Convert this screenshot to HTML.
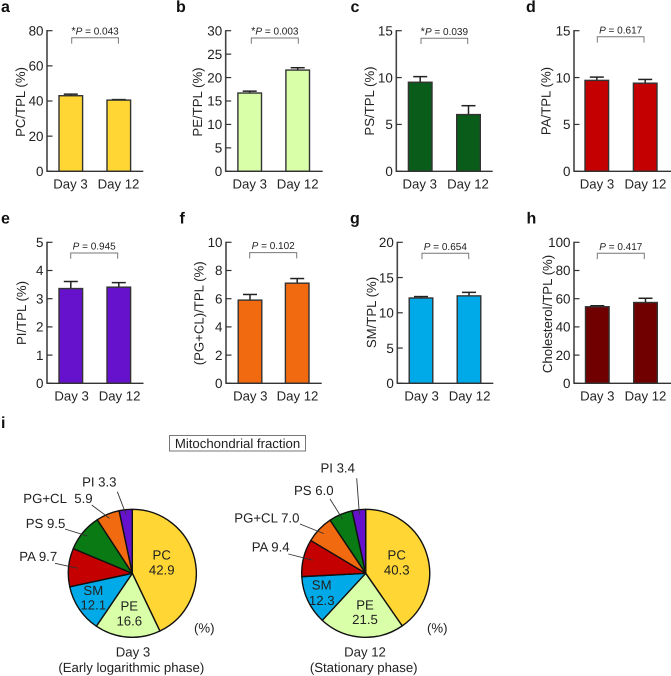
<!DOCTYPE html>
<html>
<head>
<meta charset="utf-8">
<title>Lipid composition chart</title>
<style>
html,body{margin:0;padding:0;background:#fff;}
#chart{display:block;width:671px;height:676px;font-family:"Liberation Sans",Arial,sans-serif;fill:#222;text-rendering:geometricPrecision;}
</style>
</head>
<body>
<svg id="chart" xmlns="http://www.w3.org/2000/svg" width="671" height="676" viewBox="0 0 671 676">
<rect x="169.5" y="435.5" width="136" height="15.5" fill="#fff" stroke="#777" stroke-width="1"/>
<text x="237.5" y="448" font-size="13.2" text-anchor="middle">Mitochondrial fraction</text>
</svg>
<script>
const categories = ['Day 3', 'Day 12'];
const panelLetters = ['a', 'b', 'c', 'd', 'e', 'f', 'g', 'h'];
const yTitles = ['PC/TPL (%)', 'PE/TPL (%)', 'PS/TPL (%)', 'PA/TPL (%)', 'PI/TPL (%)', '(PG+CL)/TPL (%)', 'SM/TPL (%)', 'Cholesterol/TPL (%)'];
const day3Values = [43.0, 16.7, 9.5, 9.7, 3.36, 5.9, 12.1, 54.3];
const day12Values = [40.5, 21.6, 6.05, 9.4, 3.41, 7.1, 12.4, 57.3];
const day3Errors = [0.9, 0.4, 0.6, 0.35, 0.25, 0.4, 0.2, 0.7];
const day12Errors = [0.3, 0.5, 0.95, 0.4, 0.16, 0.33, 0.5, 3.0];
const pLabels = ['*P = 0.043', '*P = 0.003', '*P = 0.039', 'P = 0.617', 'P = 0.945', 'P = 0.102', 'P = 0.654', 'P = 0.417'];
const yTickLabels = [
  [0, 20, 40, 60, 80],
  [0, 5, 10, 15, 20, 25, 30],
  [0, 5, 10, 15],
  [0, 5, 10, 15],
  [0, 1, 2, 3, 4, 5],
  [0, 2, 4, 6, 8, 10],
  [0, 5, 10, 15, 20],
  [0, 20, 40, 60, 80, 100]
];
const barColors = ['#ffd633', '#d9ffa8', '#0a5c1a', '#c40000', '#6612cc', '#f26a0f', '#00aae8', '#700000'];

const day3PieNames = ['PC', 'PE', 'SM', 'PA', 'PS', 'PG+CL', 'PI'];
const day3PieValues = [42.9, 16.6, 12.1, 9.7, 9.5, 5.9, 3.3];
const day12PieNames = ['PC', 'PE', 'SM', 'PA', 'PG+CL', 'PS', 'PI'];
const day12PieValues = [40.3, 21.5, 12.3, 9.4, 7.0, 6.0, 3.4];
const pieColors = {'PC': '#ffd633', 'PE': '#d9ffa8', 'SM': '#00aae8', 'PA': '#c40000', 'PS': '#0a7a14', 'PG+CL': '#f26a0f', 'PI': '#6612cc'};

const svg = document.getElementById('chart');
const NS = 'http://www.w3.org/2000/svg';

function make(tag, attrs, text) {
  const el = document.createElementNS(NS, tag);
  for (const k in attrs) el.setAttribute(k, attrs[k]);
  if (text !== undefined) el.textContent = text;
  svg.appendChild(el);
  return el;
}

function label(name, x, y, size, anchor, str) {
  const el = make('text', {x: x, y: y, 'font-size': size, 'text-anchor': anchor}, str);
  
  
  return el;
}

function line(name, x1, y1, x2, y2, stroke, width) {
  const el = make('line', {x1: x1, y1: y1, x2: x2, y2: y2, stroke: stroke, 'stroke-width': width});
  
  
  return el;
}

function drawPanel(i, g) {
  const id = panelLetters[i];
  const ticks = yTickLabels[i];
  const yMax = ticks[ticks.length - 1];
  const yScale = v => g.bottom - (v / yMax) * (g.bottom - g.top);
  const letter = label('panel-letter-' + id, g.letterX, g.letterY, 16, 'start', id);
  letter.setAttribute('font-weight', 'bold');
  letter.setAttribute('fill', '#111');

  const values = [day3Values[i], day12Values[i]];
  const errors = [day3Errors[i], day12Errors[i]];
  const centers = [g.c1, g.c2];
  values.forEach((v, k) => {
    const cx = centers[k];
    const yv = yScale(v);
    const ye = yScale(v + errors[k]);
    line('error-stem-' + id + '-' + k, cx, yv, cx, ye, '#222', 1.5);
    line('error-cap-' + id + '-' + k, cx - 7, ye, cx + 7, ye, '#222', 1.5);
    const bar = make('rect', {x: cx - 11.8, y: yv, width: 23.6, height: g.bottom - yv, fill: barColors[i], stroke: '#333', 'stroke-width': 1.4});
    
    
    label('x-tick-label-' + id + '-' + k, cx + g.labelDx, g.bottom + 17, 13.2, 'middle', categories[k]);
  });

  line('y-axis-' + id, g.axisX, g.top - 0.6, g.axisX, g.bottom + 0.6, '#444', 1.6);
  line('x-axis-' + id, g.axisX, g.bottom, g.axisEnd, g.bottom, '#333', 1.3);
  ticks.forEach(t => {
    const y = yScale(t);
    line('y-tick-' + id + '-' + t, g.axisX, y, g.axisX + 5.5, y, '#333', 1.2);
    label('y-tick-label-' + id + '-' + t, g.axisX - 3.5, y + 4.7, 13.4, 'end', String(t));
  });

  const title = label('y-axis-title-' + id, g.titleX, g.titleY, 13.2, 'middle', yTitles[i]);
  title.setAttribute('transform', 'rotate(-90 ' + g.titleX + ' ' + g.titleY + ')');

  const bracket = make('path', {d: 'M' + g.b1 + ' ' + (g.bY + 5.8) + 'V' + g.bY + 'H' + g.b2 + 'V' + (g.bY + 5.8), fill: 'none', stroke: '#777', 'stroke-width': 1});
  
  

  const raw = pLabels[i];
  const star = raw.charAt(0) === '*';
  const body = star ? raw.slice(1) : raw;
  const pt = label('p-value-' + id, (g.b1 + g.b2) / 2, g.bY - 3.4, 10, 'middle', '');
  if (star) {
    const s = document.createElementNS(NS, 'tspan');
    s.setAttribute('font-size', '11');
    s.textContent = '*';
    pt.appendChild(s);
  }
  const p = document.createElementNS(NS, 'tspan');
  p.setAttribute('font-style', 'italic');
  p.textContent = body.charAt(0);
  pt.appendChild(p);
  const rest = document.createElementNS(NS, 'tspan');
  rest.textContent = body.slice(1);
  pt.appendChild(rest);
}

const rowTop = {top: 30.7, bottom: 171.3};
const rowBot = {top: 242.3, bottom: 383.3};
drawPanel(0, Object.assign({}, rowTop, {axisX: 47, axisEnd: 143.3, c1: 70.8, c2: 118.8, labelDx: -0.3, titleX: 25, titleY: 102, b1: 71.7, b2: 118.4, bY: 37.8, letterX: 1, letterY: 12}));
drawPanel(1, Object.assign({}, rowTop, {axisX: 225.7, axisEnd: 322.7, c1: 249.7, c2: 297.7, labelDx: 0, titleX: 202, titleY: 102, b1: 251.3, b2: 298.3, bY: 38, letterX: 176, letterY: 12}));
drawPanel(2, Object.assign({}, rowTop, {axisX: 396.3, axisEnd: 492.7, c1: 420.2, c2: 468.5, labelDx: -0.5, titleX: 373.8, titleY: 101, b1: 421, b2: 467.7, bY: 38.2, letterX: 350.5, letterY: 12}));
drawPanel(3, Object.assign({}, rowTop, {axisX: 574, axisEnd: 671, c1: 596.8, c2: 645.2, labelDx: 0.2, titleX: 550.5, titleY: 101, b1: 597.3, b2: 644, bY: 36.8, letterX: 526, letterY: 12}));
drawPanel(4, Object.assign({}, rowBot, {axisX: 47, axisEnd: 143.5, c1: 70.8, c2: 118.8, labelDx: 0.8, titleX: 26, titleY: 313, b1: 70.7, b2: 117.7, bY: 253, letterX: 1, letterY: 223.3}));
drawPanel(5, Object.assign({}, rowBot, {axisX: 226, axisEnd: 321.7, c1: 250, c2: 297.2, labelDx: 0.3, titleX: 203.5, titleY: 313.3, b1: 249.7, b2: 296.7, bY: 252.6, letterX: 179.5, letterY: 223.3}));
drawPanel(6, Object.assign({}, rowBot, {axisX: 397.3, axisEnd: 493.3, c1: 421, c2: 469, labelDx: 0.6, titleX: 376.2, titleY: 312.5, b1: 422, b2: 468.7, bY: 253.3, letterX: 350, letterY: 223.3}));
drawPanel(7, Object.assign({}, rowBot, {axisX: 574, axisEnd: 671, c1: 597.3, c2: 645.5, labelDx: 0, titleX: 551.8, titleY: 314, b1: 597.3, b2: 644.3, bY: 253.3, letterX: 526.5, letterY: 223.3}));
const letterI = label('panel-letter-i', 1, 428, 16, 'start', 'i');
letterI.setAttribute('font-weight', 'bold');
letterI.setAttribute('fill', '#111');

function drawPie(id, names, values, g) {
  const total = values.reduce((a, b) => a + b, 0);
  const toXY = (frac, r) => {
    const a = frac * 2 * Math.PI;
    return [g.cx + r * Math.sin(a), g.cy - r * Math.cos(a)];
  };
  let acc = 0;
  const mids = {};
  names.forEach((n, k) => {
    const start = acc / total;
    acc += values[k];
    const end = acc / total;
    mids[n] = (start + end) / 2;
    const p0 = toXY(start, g.r);
    const p1 = toXY(end, g.r);
    const large = end - start > 0.5 ? 1 : 0;
    const slice = make('path', {d: 'M' + g.cx + ' ' + g.cy + 'L' + p0[0] + ' ' + p0[1] + 'A' + g.r + ' ' + g.r + ' 0 ' + large + ' 1 ' + p1[0] + ' ' + p1[1] + 'Z', fill: pieColors[n], stroke: '#111', 'stroke-width': 1.4, 'stroke-linejoin': 'round'});
    
    
  });
  names.forEach((n, k) => {
    const slug = id + '-' + n.toLowerCase().replace('+', '-');
    const spot = g.labels[n];
    if (spot.inside) {
      label('pie-name-' + slug, spot.x, spot.y1, 13.2, 'middle', n);
      label('pie-value-' + slug, spot.x, spot.y2, 13.2, 'middle', values[k].toFixed(1));
    } else {
      label('pie-label-' + slug, spot.x, spot.y, 13.2, spot.anchor, n + (spot.gap || ' ') + values[k].toFixed(1));
      const end = toXY(mids[n], g.r * spot.depth);
      line('pie-leader-' + slug, spot.lx, spot.ly, end[0], end[1], '#333', 0.9);
    }
  });
}

drawPie('day-3', day3PieNames, day3PieValues, {
  cx: 132.3, cy: 573.3, r: 64,
  labels: {
    'PC': {inside: true, x: 161.7, y1: 559.6, y2: 574.4},
    'PE': {inside: true, x: 129.3, y1: 610.3, y2: 625.5},
    'SM': {inside: true, x: 93.3, y1: 595, y2: 609.4},
    'PA': {x: 19.3, y: 561, anchor: 'start', lx: 55, ly: 563.3, depth: 0.85},
    'PS': {x: 25.7, y: 528, anchor: 'start', lx: 65, ly: 529, depth: 0.91},
    'PG+CL': {x: 23.3, y: 503, anchor: 'start', gap: '\u00a0 ', lx: 91.7, ly: 505, depth: 0.93},
    'PI': {x: 99.3, y: 486.3, anchor: 'middle', lx: 117.3, ly: 491.7, depth: 0.92}
  }
});
drawPie('day-12', day12PieNames, day12PieValues, {
  cx: 365.7, cy: 573.3, r: 64,
  labels: {
    'PC': {inside: true, x: 396.7, y1: 559.6, y2: 574.4},
    'PE': {inside: true, x: 365, y1: 609.3, y2: 624.2},
    'SM': {inside: true, x: 321.7, y1: 589.5, y2: 605},
    'PA': {x: 251.7, y: 551.7, anchor: 'start', lx: 288.3, ly: 554, depth: 0.85},
    'PG+CL': {x: 234.3, y: 522.3, anchor: 'start', lx: 300, ly: 524, depth: 0.9},
    'PS': {x: 294, y: 495, anchor: 'start', lx: 330, ly: 499, depth: 0.92},
    'PI': {x: 337.7, y: 472.7, anchor: 'middle', lx: 356.7, ly: 478.3, depth: 0.92}
  }
});

label('pie-unit-day-3', 204.3, 632.5, 13.2, 'middle', '(%)');
label('pie-unit-day-12', 437.3, 632.5, 13.2, 'middle', '(%)');
label('pie-title-day-3', 133, 656.7, 13.2, 'middle', 'Day 3');
label('pie-subtitle-day-3', 131.3, 672, 13.2, 'middle', '(Early logarithmic phase)');
label('pie-title-day-12', 365, 656.7, 13.2, 'middle', 'Day 12');
label('pie-subtitle-day-12', 363.7, 672, 13.2, 'middle', '(Stationary phase)');
</script>
</body>
</html>
